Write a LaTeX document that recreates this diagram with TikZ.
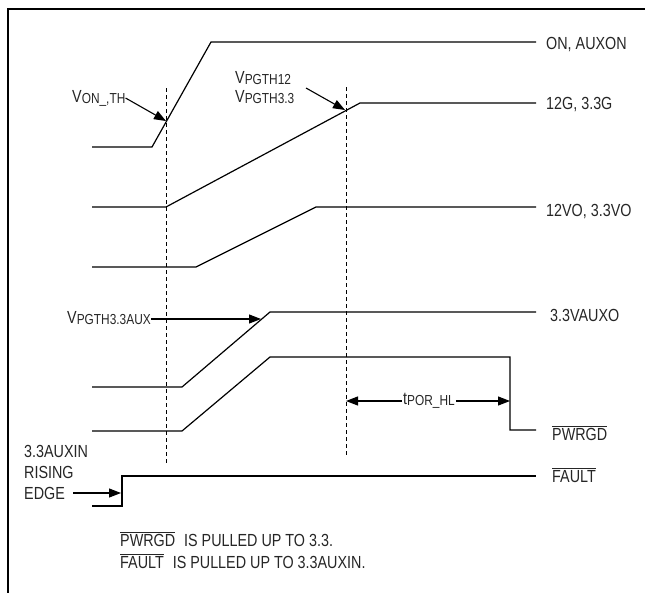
\documentclass[tikz,border=0pt]{standalone}
\usepackage{fontspec}
\setmainfont[FakeStretch=0.82]{Liberation Sans}
\usetikzlibrary{arrows.meta}
\newcommand\sbs[1]{\raisebox{-1.2pt}{\fontsize{14.5}{16}\selectfont #1}}
\newcommand\ovl[1]{$\overline{\hbox{#1}}$}
\begin{document}
\begin{tikzpicture}[x=1pt,y=-1pt,
  sig/.style={line width=1.2pt, line join=miter},
  dsh/.style={line width=0.9pt, dash pattern=on 4pt off 3pt},
  frm/.style={line width=2.6pt},
  lbl/.style={inner sep=0pt, text=black!85, font=\fontsize{17.5}{19}\selectfont},
  arr/.style={line width=1.1pt, -{Triangle[length=12pt,width=9pt]}}]
\useasboundingbox (0,0) rectangle (645,592);
% frame
\coordinate (fa) at (8,600);
\coordinate (fb) at (8,9);
\coordinate (fc) at (650,9);
\draw[frm] (fa) -- (fb) -- (fc);
% dashed markers
\coordinate (d1t) at (166,88);
\coordinate (d1b) at (166,463);
\coordinate (d2t) at (346,87);
\coordinate (d2b) at (346,457);
\draw[dsh] (d1t) -- (d1b);
\draw[dsh] (d2t) -- (d2b);
% waveforms
\draw[sig] (92,147) -- (152,147) -- (211,42) -- (536,42);
\draw[sig] (92,207) -- (166,207) -- (360,103) -- (536,103);
\draw[sig] (92,267) -- (196,267) -- (316,207) -- (536,207);
\draw[sig] (92,387) -- (182,387) -- (270,312) -- (536,312);
\draw[sig] (92,431) -- (182,431) -- (270,357) -- (510,357) -- (510,430) -- (536,430);
\draw[sig] (92,506) -- (122,506) -- (122,476) -- (536,476);
% right labels
\node[lbl, anchor=base west] (l1) at (546,49) {ON, AUXON};
\node[lbl, anchor=base west] (l2) at (546,109) {12G, 3.3G};
\node[lbl, anchor=base west] (l3) at (546,216) {12VO, 3.3VO};
\node[lbl, anchor=base west] (l4) at (550,321) {3.3VAUXO};
\node[lbl, anchor=base west] (l5) at (552,440) {\ovl{PWRGD}};
\node[lbl, anchor=base west] (l6) at (552,482) {\ovl{FAULT}};
% threshold labels
\node[lbl, anchor=base west] (von) at (72,102) {V\sbs{ON\_,TH}};
\coordinate (vonTip) at (166,121);
\draw[arr] (von.east) -- (vonTip);
\node[lbl, anchor=base west] (vpg1) at (235,83) {V\sbs{PGTH12}};
\node[lbl, anchor=base west] (vpg2) at (235,102) {V\sbs{PGTH3.3}};
\coordinate (vpgS) at (306,88);
\coordinate (vpgTip) at (345,110);
\draw[arr] (vpgS) -- (vpgTip);
\node[lbl, anchor=base west] (vaux) at (67,323) {V\sbs{PGTH3.3AUX}};
\coordinate (vauxTip) at (261,319);
\draw[arr] (vaux.east |- vauxTip) -- (vauxTip);
% tPOR_HL
\node[lbl, anchor=west, inner sep=1pt] (tpor) at (402,401) {t\sbs{POR\_HL}};
\coordinate (pA) at (346,401);
\coordinate (pB) at (510,401);
\draw[arr] (tpor.west) -- (pA);
\draw[arr] (tpor.east) -- (pB);
% rising edge label
\node[lbl, anchor=base west] (r1) at (24,457) {3.3AUXIN};
\node[lbl, anchor=base west] (r2) at (24,478) {RISING};
\node[lbl, anchor=base west] (r3) at (24,499) {EDGE};
\coordinate (rS) at (73,493);
\coordinate (rTip) at (121,493);
\draw[arr] (rS) -- (rTip);
% notes
\node[lbl, anchor=base west] (n1) at (120,546) {\ovl{PWRGD}\hspace*{9pt}IS PULLED UP TO 3.3.};
\node[lbl, anchor=base west] (n2) at (120,568) {\ovl{FAULT}\hspace*{9pt}IS PULLED UP TO 3.3AUXIN.};
\end{tikzpicture}
\end{document}
